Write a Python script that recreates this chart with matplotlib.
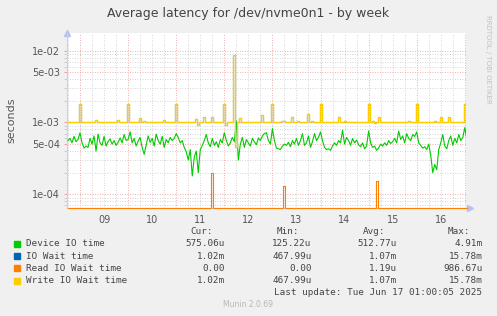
import numpy as np
import matplotlib.pyplot as plt
from matplotlib.patches import Rectangle

plt.rcParams['font.family'] = 'DejaVu Sans'

# hours are counted from Jun 9 00:00, one sample per hour
start_hour = -6
day_labels = ["09", "10", "11", "12", "13", "14", "15", "16"]

# Device IO time in microseconds
device_us = [
    560, 600, 520, 640, 540, 580,
    720, 520, 440, 470, 450, 600, 500, 650, 400, 690, 520, 480, 640, 470, 540, 590, 500, 560, 480, 530, 610, 520, 680, 560,
    580, 740, 520, 600, 470, 550, 620, 450, 360, 480, 650, 530, 600, 470, 690, 560, 500, 640, 450, 580, 520, 620, 560, 600,
    700, 620, 520, 560, 450, 390, 300, 420, 180, 330, 400, 200, 420, 480, 560, 680, 520, 460, 600, 480, 540, 450, 580, 520,
    720, 560, 470, 520, 620, 540, 1050, 300, 500, 620, 450, 580, 520, 470, 600, 540, 490, 610, 560, 650, 700, 720, 560, 500,
    820, 560, 440, 430, 420, 470, 500, 480, 530, 460, 560, 500, 600, 480, 560, 700, 480, 520, 650, 450, 540, 700, 560, 620,
    740, 560, 450, 420, 430, 410, 470, 520, 480, 560, 520, 780, 500, 620, 560, 480, 600, 520, 570, 490, 460, 520, 430, 470,
    760, 520, 450, 470, 410, 440, 500, 470, 520, 480, 560, 510, 540, 600, 520, 760, 580, 650, 520, 700, 600, 560, 680, 640,
    740, 520, 480, 440, 460, 420, 500, 350, 200, 260, 220, 420, 520, 680, 470, 430, 560, 650, 480, 600, 520, 680, 560, 620,
    850, 575,
]

# Write IO wait time in milliseconds (IO wait time is the same curve)
write_ms = [
    1.02, 1.02, 1.02, 1.02, 1.02, 1.02,
    1.80, 1.02, 1.02, 1.02, 1.02, 1.02, 1.02, 1.02, 1.08, 1.02, 1.02, 1.02, 1.02, 1.02, 1.02, 1.02, 1.02, 1.02, 1.02, 1.07, 1.02, 1.02, 1.02, 1.02,
    1.80, 1.02, 1.02, 1.02, 1.02, 1.02, 1.15, 1.02, 1.06, 1.02, 1.02, 1.02, 1.02, 1.02, 1.02, 1.02, 1.02, 1.02, 1.07, 1.02, 1.02, 1.02, 1.02, 1.02,
    1.80, 1.02, 1.02, 1.02, 1.02, 1.02, 1.02, 1.02, 1.02, 1.02, 1.12, 0.92, 1.02, 1.02, 1.20, 1.02, 1.02, 1.02, 1.20, 1.02, 1.02, 1.02, 1.02, 1.02,
    1.80, 0.92, 1.02, 1.02, 1.02, 8.70, 0.46, 1.02, 1.17, 1.02, 1.02, 1.02, 1.02, 1.02, 1.02, 1.02, 1.02, 1.02, 1.02, 1.26, 1.02, 1.02, 1.02, 1.02,
    1.80, 1.02, 1.02, 1.02, 1.02, 1.05, 1.05, 1.02, 1.02, 1.02, 1.20, 1.02, 1.02, 1.05, 1.02, 1.02, 1.02, 1.02, 1.33, 1.02, 1.05, 1.02, 1.02, 1.02,
    1.80, 1.02, 1.02, 1.02, 1.02, 1.02, 1.02, 1.02, 1.02, 1.20, 1.02, 1.02, 1.05, 1.02, 1.02, 1.02, 1.02, 1.02, 1.02, 1.02, 1.02, 1.02, 1.02, 1.02,
    1.80, 1.02, 1.05, 0.98, 1.02, 1.20, 1.02, 1.02, 1.02, 1.02, 1.02, 1.02, 1.02, 1.02, 1.02, 1.02, 1.02, 1.02, 1.02, 1.02, 1.05, 1.02, 1.02, 1.02,
    1.80, 1.02, 1.02, 1.02, 1.02, 1.02, 1.02, 1.02, 1.02, 1.05, 1.02, 1.02, 1.20, 1.02, 1.02, 1.02, 1.20, 1.02, 1.02, 1.02, 1.02, 1.02, 1.02, 1.02,
    1.80, 1.02,
]

# Read IO wait is zero except for a few short spikes (ms)
read_spike_hours = [66, 102, 148]
read_spike_ms = [0.20, 0.132, 0.153]

legend_names = ["Device IO time", "IO Wait time", "Read IO Wait time", "Write IO Wait time"]
legend_colors = ["#00CC00", "#0066B3", "#FF8000", "#FFCC00"]
stat_cur = ["575.06u", "1.02m", "0.00", "1.02m"]
stat_min = ["125.22u", "467.99u", "0.00", "467.99u"]
stat_avg = ["512.77u", "1.07m", "1.19u", "1.07m"]
stat_max = ["4.91m", "15.78m", "986.67u", "15.78m"]

hours = start_hour + np.arange(len(device_us))
device = np.array(device_us) * 1e-6
write = np.array(write_ms) * 1e-3
read = np.zeros(len(hours))
for h, v in zip(read_spike_hours, read_spike_ms):
    read[h - start_hour] = v * 1e-3

W, H = 497, 316
ymin, ymax = 6.45e-5, 1.76e-2

fig = plt.figure(figsize=(W / 100, H / 100), dpi=100, facecolor='#F0F0F0')
ax = fig.add_axes([67 / W, 1 - 208 / H, (466 - 67) / W, (208 - 33) / H])
ax.set_facecolor('white')
ax.set_yscale('log')
ax.set_xlim(-6.5, 192.6)
ax.set_ylim(ymin, ymax)

# grid
grid_gray = '#C8C8C8'
grid_red = '#F09090'
dots = (0, (1, 2))
for h in range(-6, 193, 6):
    col = grid_red if h % 24 == 0 else grid_gray
    ax.axvline(h, color=col, lw=0.6, ls=dots, zorder=1)
major_y = [1e-4, 5e-4, 1e-3, 5e-3, 1e-2]
minor_y = []
for e in range(-5, -1):
    for k in range(2, 10):
        v = k * 10.0 ** e
        if k != 5 and ymin < v < ymax:
            minor_y.append(v)
for v in minor_y:
    ax.axhline(v, color=grid_gray, lw=0.6, ls=dots, zorder=1)
for v in major_y:
    ax.axhline(v, color=grid_red, lw=0.6, ls=dots, zorder=1)

# series
ax.plot(hours, device, color=legend_colors[0], lw=0.8, zorder=3)
ax.plot(hours, write, color=legend_colors[1], lw=0.8, drawstyle='steps-mid', zorder=3)
ax.plot(hours, np.where(read > 0, read, ymin), color=legend_colors[2], lw=0.8,
        drawstyle='steps-mid', zorder=4, clip_on=False)
ax.plot(hours, write, color=legend_colors[3], lw=0.9, drawstyle='steps-mid', zorder=5)

# axes
for s in ['top', 'right']:
    ax.spines[s].set_visible(False)
for s in ['left', 'bottom']:
    ax.spines[s].set_color('#C8D0F4')
    ax.spines[s].set_linewidth(0.8)
ax.plot([0], [1.0], marker='^', ms=4, color='#B8C0F0', transform=ax.transAxes, clip_on=False)
ax.plot([1.01], [0], marker='>', ms=4, color='#B8C0F0', transform=ax.transAxes, clip_on=False)

ax.set_yticks(major_y)
ax.set_yticklabels(['1e-04', '5e-04', '1e-03', '5e-03', '1e-02'])
ax.set_yticks(minor_y, minor=True)
ax.tick_params(axis='y', which='major', length=2, width=0.6, color=grid_red,
               labelsize=7, labelcolor='#555555', pad=3)
ax.tick_params(axis='y', which='minor', length=2, width=0.6, color=grid_gray, labelleft=False)
ax.set_xticks([12 + 24 * i for i in range(len(day_labels))])
ax.set_xticklabels(day_labels)
ax.tick_params(axis='x', length=0, labelsize=7, labelcolor='#555555', pad=5)

# texts
fig.text(248 / W, 1 - 13.5 / H, "Average latency for /dev/nvme0n1 - by week",
         ha='center', va='center', fontsize=9, color='#444444')
fig.text(11 / W, 1 - 120 / H, "seconds", rotation=90, ha='center', va='center',
         fontsize=8, color='#555555')
fig.text(488 / W, 1 - 15 / H, "RRDTOOL / TOBI OETIKER", rotation=270, ha='center', va='top',
         fontsize=5, color='#C0C0C0')
fig.text(248 / W, 1 - 304.5 / H, "Munin 2.0.69", ha='center', va='center',
         fontsize=5.5, color='#B8B8B8')

# legend
mono = dict(family='DejaVu Sans Mono', fontsize=6.7, color='#444444', va='center')
for x, lab in zip([213, 299, 385, 470], ["Cur:", "Min:", "Avg:", "Max:"]):
    fig.text(x / W, 1 - 232 / H, lab, ha='right', **mono)
row_y = [244, 256.3, 268.3, 280.5]
for i, name in enumerate(legend_names):
    y = row_y[i]
    fig.add_artist(Rectangle((14 / W, 1 - (y + 3) / H), 6 / W, 6 / H,
                             transform=fig.transFigure, color=legend_colors[i]))
    fig.text(26 / W, 1 - y / H, name, ha='left', **mono)
    for x, val in zip([225, 311.5, 397, 482.5], [stat_cur[i], stat_min[i], stat_avg[i], stat_max[i]]):
        fig.text(x / W, 1 - y / H, val, ha='right', **mono)
fig.text(482.5 / W, 1 - 292.5 / H, "Last update: Tue Jun 17 01:00:05 2025", ha='right', **mono)

fig.savefig('out.png', dpi=100, facecolor=fig.get_facecolor())
